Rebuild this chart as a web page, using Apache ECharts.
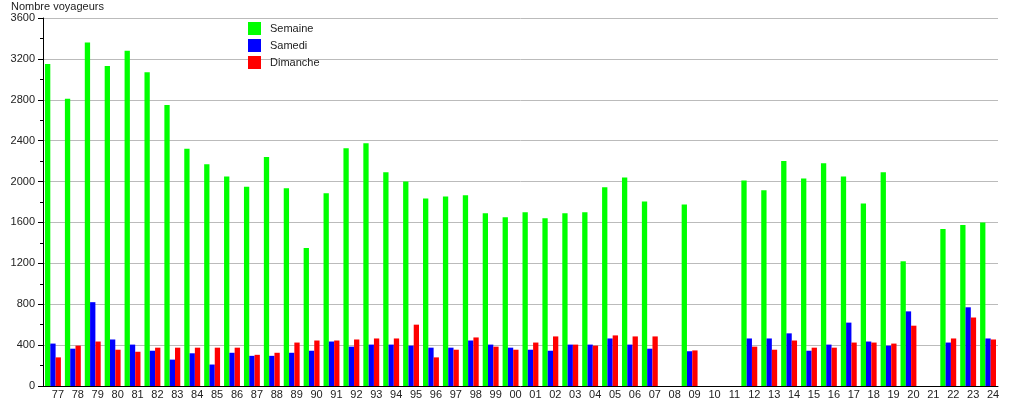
<!DOCTYPE html>
<html>
<head>
<meta charset="utf-8">
<script src="https://cdn.jsdelivr.net/npm/echarts@6/dist/echarts.min.js"></script>
<style>
html,body{margin:0;padding:0;background:#fff;}
#chart{width:1015px;height:400px;}
</style>
</head>
<body>
<div id="chart"></div>
<script>
const categories = ['77','78','79','80','81','82','83','84','85','86','87','88','89','90','91','92','93','94','95','96','97','98','99','00','01','02','03','04','05','06','07','08','09','10','11','12','13','14','15','16','17','18','19','20','21','22','23','24'];
const semaine = [3150,2810,3360,3130,3280,3070,2750,2320,2170,2050,1950,2240,1935,1350,1885,2325,2375,2090,2000,1835,1855,1865,1690,1650,1700,1640,1690,1700,1945,2040,1805,null,1775,null,null,2010,1915,2200,2030,2180,2050,1785,2090,1220,null,1535,1575,1600];
const samedi = [415,365,820,455,405,345,258,320,210,325,295,295,325,345,435,385,405,405,395,375,375,445,405,375,355,345,405,405,465,405,365,null,340,null,null,465,465,515,345,405,620,435,395,730,null,425,770,465];
const dimanche = [280,395,435,355,335,375,375,375,375,375,305,325,425,445,445,455,465,465,600,280,355,475,385,355,425,485,405,395,495,485,485,null,348,null,null,385,355,445,375,375,425,425,415,590,null,465,670,455];
const yTicks = {min: 0, max: 3600, interval: 400};
const yTitle = 'Nombre voyageurs';
const seriesNames = ['Semaine', 'Samedi', 'Dimanche'];

const font = 'Liberation Sans, Arial, sans-serif';
const chart = echarts.init(document.getElementById('chart'), null, {renderer: 'canvas'});
const mk = (name, data, color) => ({
  name, type: 'bar', data, barWidth: 5.3, barGap: '0%',
  itemStyle: {color}, emphasis: {disabled: true}, animation: false
});
chart.setOption({
  animation: false,
  textStyle: {fontFamily: font},
  graphic: [{
    type: 'text', left: 11, top: 1,
    style: {text: yTitle, font: '11px ' + font, fill: '#222'}
  }],
  legend: {
    orient: 'vertical', left: 248, top: 22, padding: 0,
    itemWidth: 13, itemHeight: 13, itemGap: 4,
    icon: 'rect',
    textStyle: {fontSize: 11, color: '#222', fontFamily: font, padding: [0, 0, 0, 4]},
    data: seriesNames
  },
  grid: {left: 43, right: 17, top: 18, bottom: 13, containLabel: false},
  xAxis: {
    type: 'category', data: categories,
    axisLine: {lineStyle: {color: '#000', width: 1}},
    axisTick: {show: false},
    axisLabel: {color: '#222', fontSize: 11, fontFamily: font, margin: 3, padding: [0, 0, 0, 10], interval: 0},
    splitLine: {show: false}
  },
  yAxis: {
    type: 'value', min: yTicks.min, max: yTicks.max, interval: yTicks.interval,
    axisLine: {show: true, lineStyle: {color: '#000', width: 1}},
    axisTick: {show: true, length: 5, lineStyle: {color: '#000'}},
    minorTick: {show: true, splitNumber: 2, length: 3, lineStyle: {color: '#000'}},
    axisLabel: {color: '#222', fontSize: 11, fontFamily: font, margin: 8, formatter: v => String(v)},
    splitLine: {show: true, lineStyle: {color: '#bbb', width: 1}}
  },
  series: [
    mk(seriesNames[0], semaine, '#00ff00'),
    mk(seriesNames[1], samedi, '#0000ff'),
    mk(seriesNames[2], dimanche, '#ff0000')
  ]
});
</script>
</body>
</html>
